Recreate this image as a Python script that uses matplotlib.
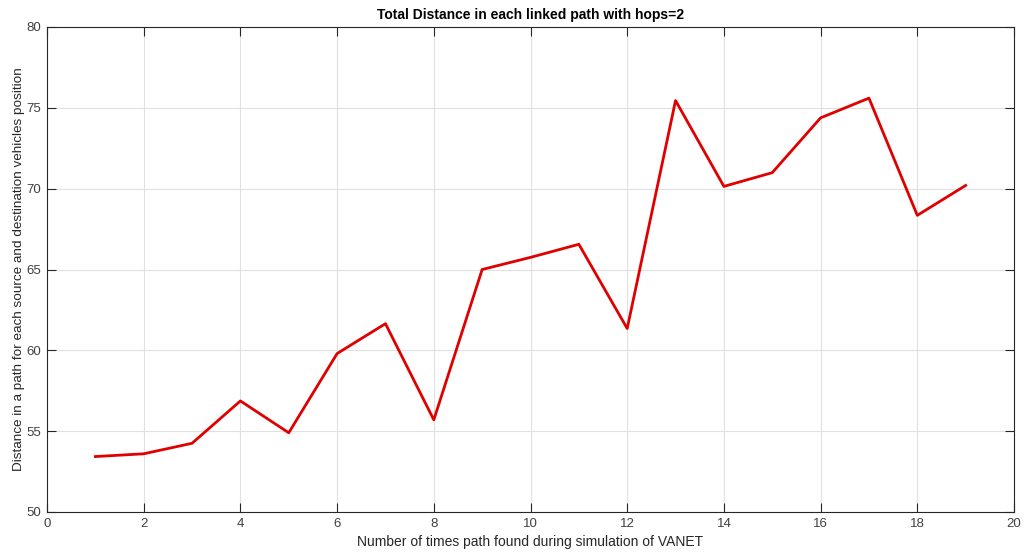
import matplotlib
matplotlib.use("Agg")
import matplotlib.pyplot as plt

# Path index and total distance for each linked path (hops = 2)
path_index = [1, 2, 3, 4, 5, 6, 7, 8, 9, 10, 11, 12, 13, 14, 15, 16, 17, 18, 19]
total_distance = [53.43, 53.6, 54.25, 56.87, 54.9, 59.8, 61.65, 55.7, 65.0, 65.75,
                  66.56, 61.35, 75.45, 70.14, 70.99, 74.38, 75.6, 68.35, 70.2]
x_ticks = [0, 2, 4, 6, 8, 10, 12, 14, 16, 18, 20]
y_ticks = [50, 55, 60, 65, 70, 75, 80]

plt.rcParams['font.family'] = ['Liberation Sans', 'DejaVu Sans']

fig = plt.figure(figsize=(10.32, 5.52), dpi=100)
ax = fig.add_axes([47 / 1032, 1 - 512 / 552, (1014 - 47) / 1032, (512 - 27) / 552])

ax.plot(path_index, total_distance, color='#e00000', linewidth=2.0)

ax.set_xlim(0, 20)
ax.set_ylim(50, 80)
ax.set_xticks(x_ticks)
ax.set_yticks(y_ticks)

edge = '#262626'
ax.grid(True, color='#e0e0e0', linewidth=0.8)
ax.set_axisbelow(True)
for s in ax.spines.values():
    s.set_color(edge)
    s.set_linewidth(0.8)
ax.tick_params(direction='in', length=6.5, width=0.8, color=edge,
               top=True, right=True, labelsize=9.5, labelcolor='#404040', pad=4)

ax.set_title('Total Distance in each linked path with hops=2',
             fontsize=10, fontweight='bold', color='black', pad=6)
ax.set_xlabel('Number of times path found during simulation of VANET',
              fontsize=10, color='#262626', labelpad=4)
ax.set_ylabel('Distance in a path for each source and destination vehicles position',
              fontsize=9.7, color='#262626', labelpad=1)

fig.savefig('out.png', dpi=100, facecolor='white')
